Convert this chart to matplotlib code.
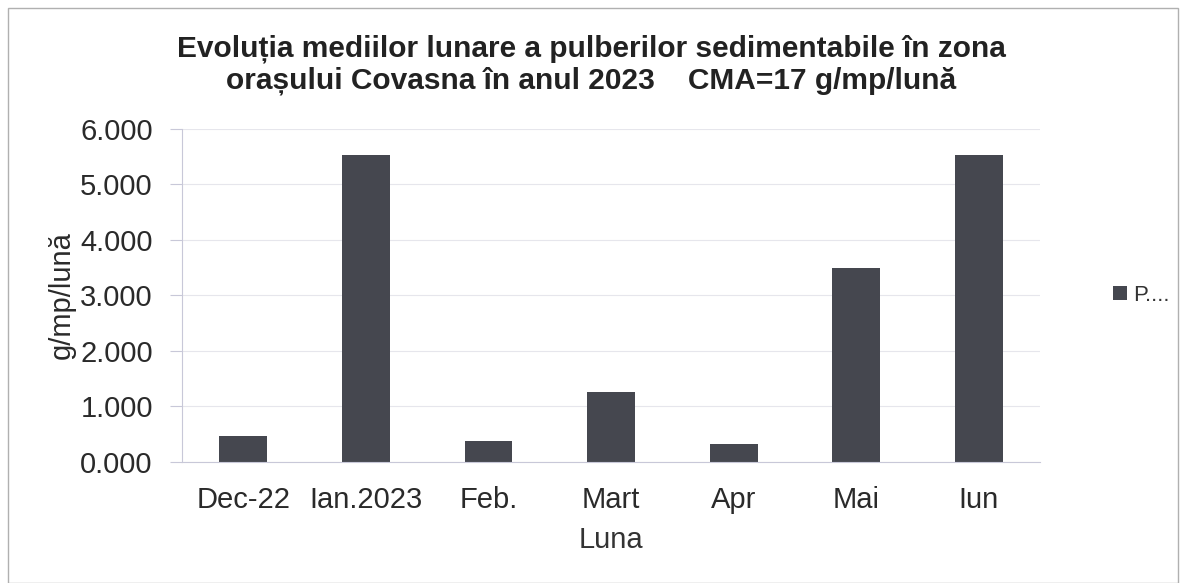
import matplotlib.pyplot as plt
from matplotlib.patches import Rectangle
from matplotlib.ticker import FuncFormatter

# Data
luni = ["Dec-22", "Ian.2023", "Feb.", "Mart", "Apr", "Mai", "Iun"]
valori = [0.47, 5.53, 0.37, 1.27, 0.33, 3.50, 5.53]
y_ticks = [0, 1, 2, 3, 4, 5, 6]

plt.rcParams['font.family'] = ['Liberation Sans', 'DejaVu Sans']

fig = plt.figure(figsize=(11.82, 5.83), dpi=100)
ax = fig.add_axes([0.154, 0.2075, 0.726, 0.5715])

bar_color = "#45474f"
ax.bar(range(len(luni)), valori, width=0.39, color=bar_color, label="P....")

ax.set_xlim(-0.5, len(luni) - 0.5)
ax.set_ylim(0, 6)
ax.set_yticks(y_ticks)
ax.yaxis.set_major_formatter(FuncFormatter(lambda v, p: f"{v:.3f}"))
ax.set_xticks(range(len(luni)))
ax.set_xticklabels(luni)
ax.tick_params(axis="both", labelsize=21, colors="#2a2a2a", length=0, pad=17)
ax.tick_params(axis="y", length=9, color="#c8c8d8", direction="out", pad=12)
ax.tick_params(axis="y", labelcolor="#2a2a2a")

ax.grid(axis="y", color="#e6e6ec", linewidth=0.8)
ax.set_axisbelow(True)
for side in ["top", "right"]:
    ax.spines[side].set_visible(False)
ax.spines["left"].set_color("#c8c8d8")
ax.spines["bottom"].set_color("#c8c8d8")

ax.set_ylabel("g/mp/lună", fontsize=21, color="#2a2a2a", labelpad=3)
ax.set_xlabel("Luna", fontsize=21, color="#333333", labelpad=9)

fig.text(0.5, 0.889, "Evoluția mediilor lunare a pulberilor sedimentabile în zona\n"
         "orașului Covasna în anul 2023    CMA=17 g/mp/lună",
         ha="center", va="center", fontsize=21.5, fontweight="bold",
         color="#222222", linespacing=1.15)

ax.legend(loc="center left", bbox_to_anchor=(1.062, 0.5), frameon=False,
          fontsize=16, handlelength=0.6, handleheight=0.6, handletextpad=0.3,
          labelcolor="#333333")

# outer chart border
fig.patches.append(Rectangle((0.007, 0.0), 0.99, 0.986, transform=fig.transFigure,
                             fill=False, edgecolor="#b0b0b0", linewidth=1.0))

fig.savefig("out.png", dpi=100)
